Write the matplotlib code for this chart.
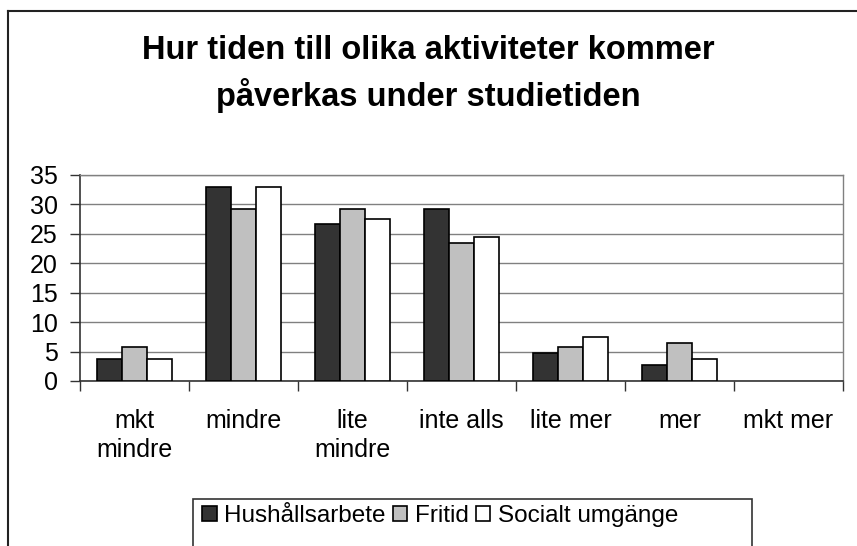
import matplotlib
matplotlib.use("Agg")
import matplotlib.pyplot as plt
import numpy as np
from matplotlib.lines import Line2D
from matplotlib.patches import Rectangle

categories = ["mkt\nmindre", "mindre", "lite\nmindre", "inte alls", "lite mer", "mer", "mkt mer"]
hushall = [3.8, 33.0, 26.6, 29.3, 4.8, 2.7, 0.0]
fritid = [5.8, 29.3, 29.3, 23.4, 5.8, 6.5, 0.0]
socialt = [3.8, 33.0, 27.6, 24.5, 7.5, 3.8, 0.0]
series_names = ["Hushållsarbete", "Fritid", "Socialt umgänge"]
yticks = [0, 5, 10, 15, 20, 25, 30, 35]
title = "Hur tiden till olika aktiviteter kommer\npåverkas under studietiden"

plt.rcParams['font.family'] = ['Liberation Sans', 'DejaVu Sans']

W, H = 857, 546
fig = plt.figure(figsize=(W / 100, H / 100), dpi=100)
fig.patch.set_facecolor('white')

# outer chart frame (extends beyond right and bottom)
fig.add_artist(Line2D([8 / W, 8 / W], [0, 1 - 11 / H], transform=fig.transFigure, color='#222222', lw=1.5))
fig.add_artist(Line2D([8 / W, 1.0], [1 - 11 / H, 1 - 11 / H], transform=fig.transFigure, color='#222222', lw=1.5))

ax = fig.add_axes([80 / W, (H - 381) / H, 763 / W, 206 / H])
x = np.arange(len(categories))
bw = 0.228
colors = ['#333333', '#c0c0c0', '#ffffff']
for i, (vals, name) in enumerate(zip([hushall, fritid, socialt], series_names)):
    v = np.array(vals)
    ax.bar(x + (i - 1) * bw, v, width=bw, color=colors[i],
           edgecolor=['black' if h > 0 else 'none' for h in v], linewidth=1.2,
           label=name, zorder=3)

ax.set_xlim(-0.5, len(categories) - 0.5)
ax.set_ylim(0, 35)
ax.set_yticks(yticks)
ax.set_yticklabels([str(v) for v in yticks], fontsize=18)
ax.set_xticks(np.arange(len(categories) + 1) - 0.5)
ax.set_xticklabels([])
ax.set_xticks(x, minor=True)
ax.set_xticklabels(categories, minor=True, fontsize=18, linespacing=1.3, va='top')
ax.tick_params(axis='x', which='minor', length=0, pad=20)
ax.tick_params(axis='x', which='major', length=7, width=1, color='#333333', direction='out')
ax.tick_params(axis='y', length=7, width=1, color='#333333', direction='out', pad=9)
ax.yaxis.grid(True, color='#808080', linewidth=1, zorder=0)
ax.set_axisbelow(True)
for s in ['top', 'right']:
    ax.spines[s].set_color('#808080')
    ax.spines[s].set_linewidth(1)
for s in ['left', 'bottom']:
    ax.spines[s].set_color('#333333')
    ax.spines[s].set_linewidth(1.2)

fig.text(0.5, 1 - 74 / H, title, ha='center', va='center', fontsize=23.5, fontweight='bold',
         linespacing=1.4)

# legend frame extending beyond bottom
fig.add_artist(Rectangle((193 / W, -0.05), (752 - 193) / W, 0.05 + (H - 499) / H,
                         transform=fig.transFigure, fill=False, edgecolor='#333333', lw=1.2))
handles, labels = ax.get_legend_handles_labels()
leg = fig.legend(handles, labels, loc='center left', bbox_to_anchor=(202 / W, 1 - 516 / H),
                 ncol=3, frameon=False, fontsize=17.5, handlelength=0.6, handleheight=0.6,
                 handletextpad=0.3, columnspacing=0.3, borderpad=0, borderaxespad=0)

fig.savefig('out.png', dpi=100)
